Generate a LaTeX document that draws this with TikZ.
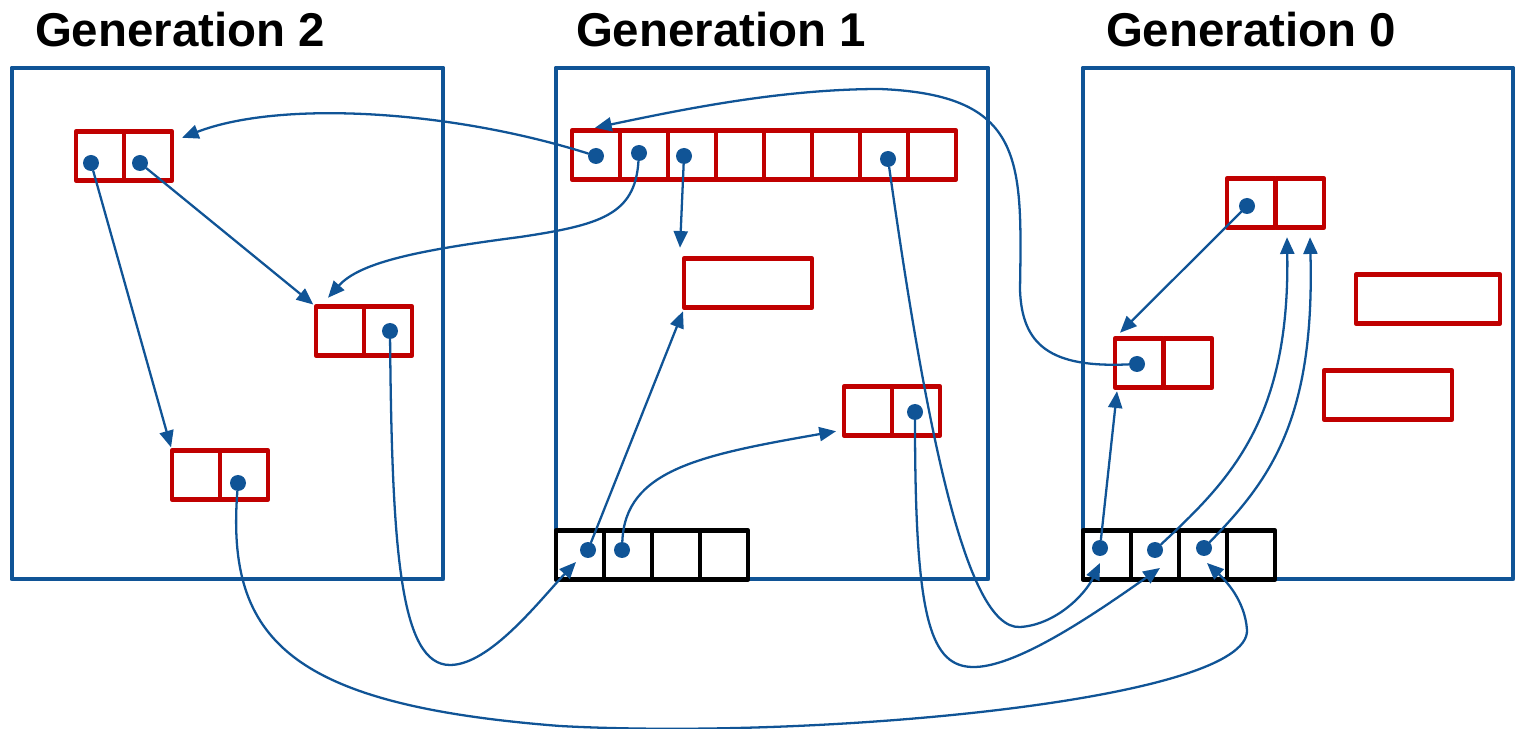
\documentclass[tikz,border=0pt]{standalone}
\usepackage{fontspec}
\setmainfont{Liberation Sans}
\usepackage{tikz}
\usetikzlibrary{arrows.meta, positioning}
\definecolor{gcblue}{RGB}{16,84,150}
\definecolor{gcred}{RGB}{192,0,0}
\tikzset{>/.tip={Triangle[length=9.5pt,width=8pt]}}
\tikzset{cell/.style={draw=gcred, line width=2.8pt, minimum width=0.96cm, minimum height=0.97cm, inner sep=0pt, outer sep=0pt}}
\tikzset{root/.style={cell, draw=black}}
\tikzset{dot/.style={circle, fill=gcblue, minimum size=0.32cm, inner sep=0pt}}
\tikzset{ptr/.style={->, draw=gcblue, line width=1.3pt}}
\tikzset{gen/.style={draw=gcblue, line width=2.8pt}}
\tikzset{title/.style={font=\bfseries\fontsize{27}{30}\selectfont}}

\begin{document}
\begin{tikzpicture}[line cap=round,line join=round,x=0.02cm,y=-0.02cm]
\useasboundingbox (0,0) rectangle (1516,729);

% generations
\draw[gen] (12,68) rectangle (443,579);
\draw[gen] (556,68) rectangle (988,579);
\draw[gen] (1083,68) rectangle (1513,579);
\node[title] (t2) at (180,30) {Generation 2};
\node[title] (t1) at (721,30) {Generation 1};
\node[title] (t0) at (1251,30) {Generation 0};

% generation 2 objects
\draw[]
 (100,156) node[cell](g2a1) {}
 (148,156) node[cell](g2a2) {}
 (340,331) node[cell](g2b1) {}
 (388,331) node[cell](g2b2) {}
 (196,475) node[cell](g2c1) {}
 (244,475) node[cell](g2c2) {};

% generation 1 objects
\draw[]
 (596,155) node[cell](g1a1) {}
 (644,155) node[cell](g1a2) {}
 (692,155) node[cell](g1a3) {}
 (740,155) node[cell](g1a4) {}
 (788,155) node[cell](g1a5) {}
 (836,155) node[cell](g1a6) {}
 (884,155) node[cell](g1a7) {}
 (932,155) node[cell](g1a8) {}
 (748,283) node[cell, minimum width=2.56cm](g1d) {}
 (868,411) node[cell](g1e1) {}
 (916,411) node[cell](g1e2) {};
\draw[]
 (580,555) node[root](g1r1) {}
 (628,555) node[root](g1r2) {}
 (676,555) node[root](g1r3) {}
 (724,555) node[root](g1r4) {};

% generation 0 objects
\draw[]
 (1251,203) node[cell](g0f1) {}
 (1300,203) node[cell](g0f2) {}
 (1139,363) node[cell](g0g1) {}
 (1188,363) node[cell](g0g2) {}
 (1428,299) node[cell, minimum width=2.88cm](g0h) {}
 (1388,395) node[cell, minimum width=2.56cm](g0i) {};
\draw[]
 (1107,555) node[root](g0r1) {}
 (1155,555) node[root](g0r2) {}
 (1203,555) node[root](g0r3) {}
 (1251,555) node[root](g0r4) {};

% pointers
\draw[]
 (91,163) node[dot](pa1) {}
 (140,163) node[dot](pa2) {}
 (390,331) node[dot](pb2) {}
 (238,483) node[dot](pc2) {}
 (596,156) node[dot](p11) {}
 (639,153) node[dot](p12) {}
 (684,156) node[dot](p13) {}
 (888,159) node[dot](p17) {}
 (915,412) node[dot](pe2) {}
 (588,550) node[dot](pr11) {}
 (622,550) node[dot](pr12) {}
 (1247,206) node[dot](pf1) {}
 (1137,364) node[dot](pg1) {}
 (1100,548) node[dot](pr01) {}
 (1155,550) node[dot](pr02) {}
 (1204,548) node[dot](pr03) {};

\draw[]
 (pa1) edge[ptr, shorten >=2pt] (g2c1.north west)
 (pa2) edge[ptr, shorten >=2pt] (g2b1.north west)
 (p13) edge[ptr] ([shift={(-4,-11)}]g1d.north west)
 (pr11) edge[ptr] ([shift={(-1,4)}]g1d.south west)
 (pr01) edge[ptr] ([shift={(2,4)}]g0g1.south west)
 (pf1) edge[ptr] ([shift={(5,-6)}]g0g1.north west);

\draw[ptr] (p11) .. controls (450,110) and (280,100) .. ([shift={(10,6)}]g2a2.north east);
\draw[ptr] (p12) .. controls (635,215) and (600,225) .. (520,237)
 .. controls (420,250) and (360,262) .. ([shift={(12,-9)}]g2b1.north west);
\draw[ptr] (p17) .. controls (925,420) and (965,630) .. (1020,627)
 .. controls (1055,625) and (1085,595) .. ([shift={(-7,8)}]g0r1.center);
\draw[ptr] (pg1) .. controls (1050,368) and (1022,345) .. (1020,290)
 .. controls (1022,160) and (1025,95) .. (880,89)
 .. controls (780,89) and (680,110) .. ([shift={(23,-3)}]g1a1.north west);
\draw[ptr] (pb2) .. controls (392,550) and (400,665) .. (450,665)
 .. controls (490,665) and (540,600) .. ([shift={(-4,7)}]g1r1.center);
\draw[ptr] (pc2) .. controls (226,640) and (290,705) .. (560,726)
 .. controls (820,740) and (1250,700) .. (1247,630)
 .. controls (1245,600) and (1225,580) .. ([shift={(4,8)}]g0r3.center);
\draw[ptr] (pr12) .. controls (625,470) and (700,455) .. ([shift={(-8,-4)}]g1e1.south west);
\draw[ptr] (pe2) .. controls (915,620) and (930,668) .. (975,667)
 .. controls (1020,666) and (1100,610) .. ([shift={(5,13)}]g0r2.center);
\draw[ptr] (pr02) .. controls (1230,480) and (1290,420) .. ([shift={(11,10)}]g0f2.south west);
\draw[ptr] (pr03) .. controls (1270,480) and (1315,420) .. ([shift={(34,10)}]g0f2.south west);

\end{tikzpicture}
\end{document}
